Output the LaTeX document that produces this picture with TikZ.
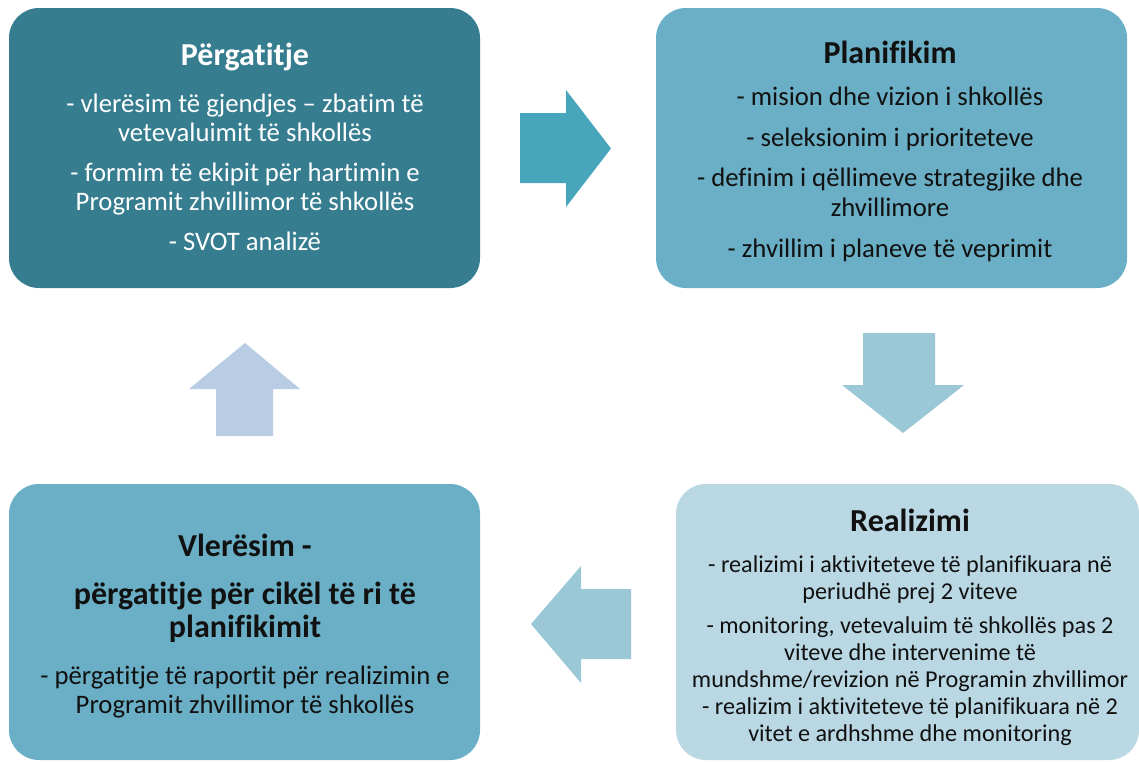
\documentclass[tikz,border=0pt]{standalone}
\usepackage{fontspec}
\setmainfont{Carlito}[Ligatures=NoCommon]
\definecolor{cDark}{HTML}{367D90}
\definecolor{cMid}{HTML}{6AAFC5}
\definecolor{cLight}{HTML}{B9D8E3}
\definecolor{aRight}{HTML}{47A5BC}
\definecolor{aSoft}{HTML}{9AC8D7}
\definecolor{aUp}{HTML}{B8CCE4}
\definecolor{txt}{HTML}{111111}
\begin{document}
\begin{tikzpicture}[x=1pt,y=-1pt,
  box/.style={rounded corners=30pt, inner sep=0pt, draw=none},
  ttl/.style={font=\bfseries\fontsize{32}{33}\selectfont, align=center, inner sep=0pt, text=txt},
  body/.style={font=\fontsize{26.7}{29}\selectfont, align=center, inner sep=0pt, text=txt},
  body3/.style={body, font=\fontsize{24.2}{27}\selectfont}]
\useasboundingbox (0,0) rectangle (1139,761);
\fill[white] (0,0) rectangle (1139,761);

% boxes
\node[box, fill=cDark, minimum width=471pt, minimum height=280pt] (prep) at (244.5,148) {};
\node[box, fill=cMid, minimum width=471pt, minimum height=280pt] (plan) at (891.5,148) {};
\node[box, fill=cLight, minimum width=463pt, minimum height=276pt] (real) at (907.5,622) {};
\node[box, fill=cMid, minimum width=471pt, minimum height=276pt] (eval) at (244.5,622) {};

% texts
\node[ttl, text=white] (prepT) at (245,57) {Përgatitje};
\node[body, text=white] (prepB) at (245,172.5) {- vlerësim të gjendjes – zbatim të\\ vetevaluimit të shkollës\\[11pt]
 - formim të ekipit për hartimin e\\ Programit zhvillimor të shkollës\\[11pt] - SVOT analizë};

\node[ttl] (planT) at (890,52) {Planifikim};
\node[body, font=\fontsize{26.7}{30}\selectfont] (planB) at (890,174.5) {- mision dhe vizion i shkollës\\[10.5pt] - seleksionim i prioriteteve\\[10.5pt]
 - definim i qëllimeve strategjike dhe\\ zhvillimore\\[10.5pt] - zhvillim i planeve të veprimit};

\node[ttl] (realT) at (910,520) {Realizimi};
\node[body3] (realB) at (910,651) {- realizimi i aktiviteteve të planifikuara në\\ periudhë prej 2 viteve\\[7pt]
 - monitoring, vetevaluim të shkollës pas 2\\ viteve dhe intervenime të\\ mundshme/revizion në Programin zhvillimor\\
 - realizim i aktiviteteve të planifikuara në 2\\ vitet e ardhshme dhe monitoring};

\node[ttl] (evalT) at (245,588.5) {Vlerësim -\\[15pt] përgatitje për cikël të ri të\\ planifikimit};
\node[body] (evalB) at (245,692.5) {- përgatitje të raportit për realizimin e\\ Programit zhvillimor të shkollës};

% block arrows
\fill[aRight] (520,113) -- (566,113) -- (566,90) -- (611,148.5) -- (566,207) -- (566,183) -- (520,183) -- cycle;
\fill[aSoft] (863,333) -- (935,333) -- (935,385) -- (964,385) -- (903,433) -- (842,385) -- (863,385) -- cycle;
\fill[aSoft] (631,589) -- (581,589) -- (581,566) -- (531,624) -- (581,683) -- (581,659) -- (631,659) -- cycle;
\fill[aUp] (216,436) -- (216,389) -- (189,389) -- (245,343) -- (300,389) -- (273,389) -- (273,436) -- cycle;
\end{tikzpicture}
\end{document}
